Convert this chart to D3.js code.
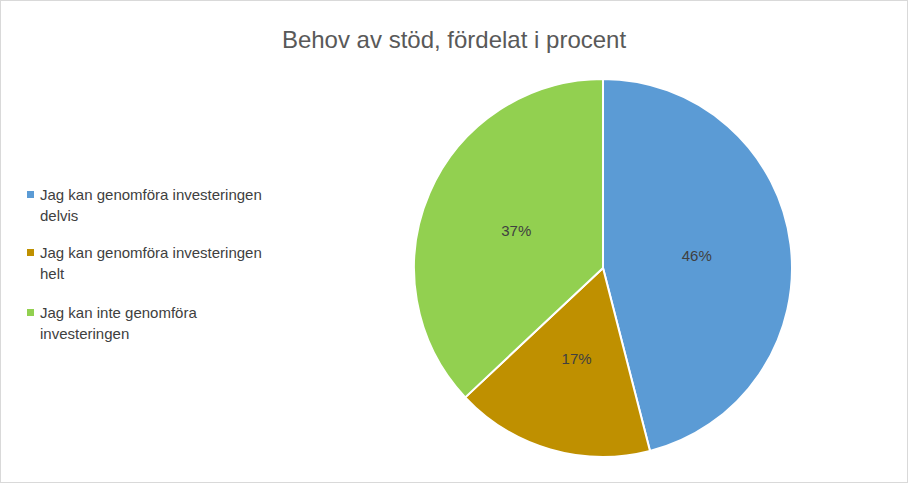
<!DOCTYPE html>
<html><head><meta charset="utf-8">
<script src="https://cdn.jsdelivr.net/npm/d3@7"></script>
<style>body{margin:0;background:#fff}svg{display:block}</style>
</head><body>
<script>
const categories = ["Jag kan genomföra investeringen delvis","Jag kan genomföra investeringen helt","Jag kan inte genomföra investeringen"];
const legendLines = [["Jag kan genomföra investeringen","delvis"],["Jag kan genomföra investeringen","helt"],["Jag kan inte genomföra","investeringen"]];
const values = [46,17,37];
const colors = ["#5B9BD5","#BF9000","#92D050"];
const title = "Behov av stöd, fördelat i procent";

const W=908,H=483;
const svg=d3.select("body").append("svg").attr("width",W).attr("height",H);
svg.append("rect").attr("x",0.5).attr("y",0.5).attr("width",W-1).attr("height",H-1).attr("fill","#fff").attr("stroke","#D9D9D9");
const font="'Liberation Sans', Carlito, Arial, sans-serif";
svg.append("text").attr("x",454).attr("y",48).attr("text-anchor","middle").attr("font-family",font).attr("font-size",24).attr("fill","#595959").text(title);

const cx=603,cy=268,R=189;
const pie=d3.pie().sort(null).value(d=>d);
const arcs=pie(values);
const arc=d3.arc().innerRadius(0).outerRadius(R);
const g=svg.append("g").attr("transform",`translate(${cx},${cy})`);
g.selectAll("path").data(arcs).join("path").attr("d",arc).attr("fill",(d,i)=>colors[i]).attr("stroke","#fff").attr("stroke-width",2);
const la=d3.arc().innerRadius(R*0.5).outerRadius(R*0.5);
g.selectAll("text.l").data(arcs).join("text").attr("class","l")
 .attr("transform",d=>`translate(${la.centroid(d)})`).attr("text-anchor","middle").attr("dy","0.35em")
 .attr("font-family",font).attr("font-size",15).attr("fill","#404040").text(d=>d.data+"%");

const ly=[200,258,318];
legendLines.forEach((lines,i)=>{
  svg.append("rect").attr("x",27).attr("y",ly[i]-9).attr("width",7).attr("height",7).attr("fill",colors[i]);
  lines.forEach((t,j)=>svg.append("text").attr("x",40).attr("y",ly[i]+j*21).attr("font-family",font).attr("font-size",15).attr("fill","#404040").text(t));
});
</script>
</body></html>
